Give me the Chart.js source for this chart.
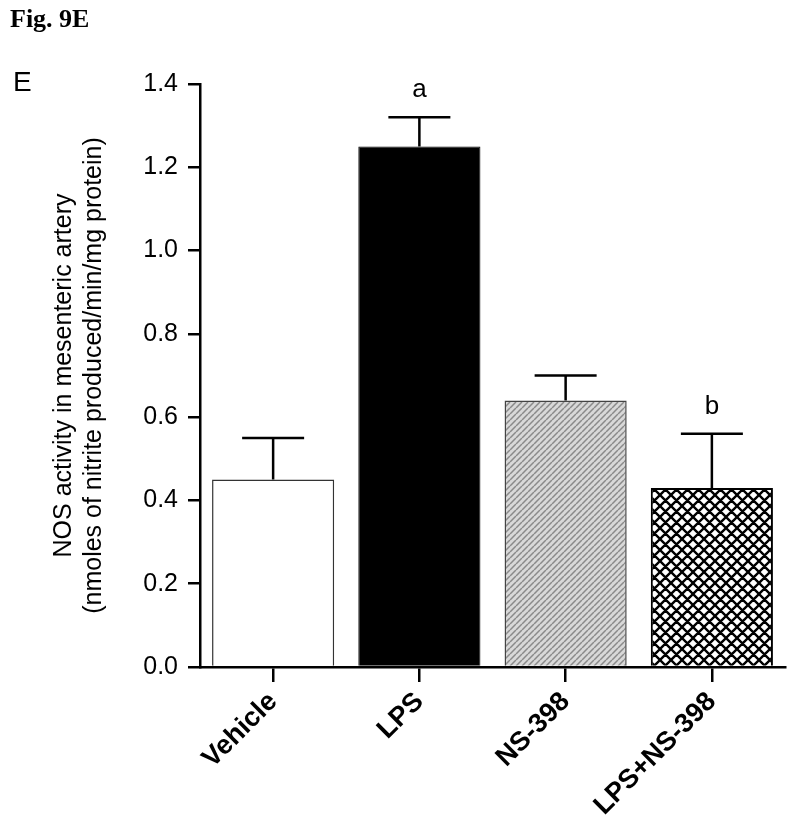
<!DOCTYPE html>
<html lang="en">
<head>
    <meta charset="UTF-8">
    <title>Fig. 9E - NOS activity</title>
    <script src="https://cdn.jsdelivr.net/npm/chart.js@4"></script>
    <style>
        body {
            margin: 0;
            background: #fff;
        }
        .wrap {
            position: relative;
            width: 800px;
            height: 835px;
        }
        .fig-label {
            position: absolute;
            left: 10px;
            top: 4px;
            font-family: 'Liberation Serif', 'Times New Roman', serif;
            font-weight: bold;
            font-size: 26px;
        }
        .panel-label {
            position: absolute;
            left: 13px;
            top: 66px;
            font-family: 'Liberation Sans', Arial, sans-serif;
            font-size: 28px;
        }
        canvas {
            position: absolute;
            left: 0;
            top: 0;
        }
    </style>
</head>
<body>
    <div class="wrap">
        <canvas id="nosChart" width="800" height="835"></canvas>
        <div class="fig-label">Fig. 9E</div>
        <div class="panel-label">E</div>
    </div>

    <script>
        // data
        const groups = ['Vehicle', 'LPS', 'NS-398', 'LPS+NS-398'];
        const means = [0.45, 1.25, 0.64, 0.43];
        const sem = [0.10, 0.07, 0.06, 0.13];
        const letters = ['', 'a', '', 'b'];
        const yTicks = [0.0, 0.2, 0.4, 0.6, 0.8, 1.0, 1.2, 1.4];

        // fill patterns
        function hatchPattern() {
            const p = 6;
            const c = document.createElement('canvas');
            c.width = p; c.height = p;
            const g = c.getContext('2d');
            g.fillStyle = '#d8d8d8';
            g.fillRect(0, 0, p, p);
            g.strokeStyle = '#8a8a8a';
            g.lineWidth = 1.5;
            g.beginPath();
            for (const o of [-p, 0, p]) {
                g.moveTo(o, p);
                g.lineTo(o + p, 0);
            }
            g.stroke();
            return g.createPattern(c, 'repeat');
        }

        function crossPattern() {
            const p = 11;
            const c = document.createElement('canvas');
            c.width = p; c.height = p;
            const g = c.getContext('2d');
            g.fillStyle = '#fff';
            g.fillRect(0, 0, p, p);
            g.strokeStyle = '#000';
            g.lineWidth = 2.4;
            g.beginPath();
            for (const o of [-p, 0, p]) {
                g.moveTo(o, 0);
                g.lineTo(o + p, p);
                g.moveTo(o, p);
                g.lineTo(o + p, 0);
            }
            g.stroke();
            return g.createPattern(c, 'repeat');
        }

        // error bars + significance letters
        const errorBars = {
            id: 'errorBars',
            afterDatasetsDraw(chart) {
                const ctx = chart.ctx;
                const y = chart.scales.y;
                const bars = chart.getDatasetMeta(0).data;
                ctx.save();
                ctx.strokeStyle = '#000';
                ctx.lineWidth = 2.5;
                bars.forEach((bar, i) => {
                    const top = y.getPixelForValue(means[i] + sem[i]);
                    const base = y.getPixelForValue(means[i]);
                    ctx.beginPath();
                    ctx.moveTo(bar.x, base);
                    ctx.lineTo(bar.x, top);
                    ctx.moveTo(bar.x - 31, top);
                    ctx.lineTo(bar.x + 31, top);
                    ctx.stroke();
                    if (letters[i]) {
                        ctx.fillStyle = '#000';
                        ctx.font = '26px "Liberation Sans", Arial, sans-serif';
                        ctx.textAlign = 'center';
                        ctx.textBaseline = 'middle';
                        ctx.fillText(letters[i], bar.x, top - 27);
                    }
                });
                ctx.restore();
            }
        };

        const ctx = document.getElementById('nosChart').getContext('2d');
        new Chart(ctx, {
            type: 'bar',
            data: {
                labels: groups,
                datasets: [{
                    data: means,
                    backgroundColor: ['#ffffff', '#000000', hatchPattern(), crossPattern()],
                    borderColor: ['#333', '#000', '#444', '#000'],
                    borderWidth: [1.5, 1, 1.5, 2],
                    borderSkipped: 'bottom',
                    barPercentage: 0.835,
                    categoryPercentage: 1.0
                }]
            },
            options: {
                responsive: false,
                animation: false,
                layout: {
                    padding: { left: 0, top: 84, right: 15, bottom: 0 }
                },
                plugins: {
                    legend: { display: false },
                    tooltip: { enabled: false }
                },
                scales: {
                    x: {
                        afterFit(scale) { scale.height = 168; },
                        grid: {
                            offset: false,
                            drawOnChartArea: false,
                            color: '#000',
                            lineWidth: 2.5,
                            tickLength: 15
                        },
                        border: { color: '#000', width: 2.5 },
                        ticks: {
                            color: '#000',
                            minRotation: 45,
                            maxRotation: 45,
                            padding: 4,
                            font: { family: '"Liberation Sans", Arial, sans-serif', size: 27, weight: 'bold' }
                        }
                    },
                    y: {
                        min: 0,
                        max: 1.4,
                        afterFit(scale) { scale.width = 200; },
                        afterBuildTicks(scale) {
                            scale.ticks = yTicks.map(v => ({ value: v }));
                        },
                        grid: {
                            drawOnChartArea: false,
                            color: '#000',
                            lineWidth: 2.5,
                            tickLength: 12
                        },
                        border: { color: '#000', width: 2.5 },
                        ticks: {
                            color: '#000',
                            padding: 10,
                            font: { family: '"Liberation Sans", Arial, sans-serif', size: 25 },
                            callback: v => Number(v).toFixed(1)
                        },
                        title: {
                            display: true,
                            text: ['NOS activity in mesenteric artery', '(nmoles of nitrite produced/min/mg protein)'],
                            color: '#000',
                            padding: { top: 49, bottom: 0 },
                            font: { family: '"Liberation Sans", Arial, sans-serif', size: 25, lineHeight: 1.2 }
                        }
                    }
                }
            },
            plugins: [errorBars]
        });
    </script>
</body>
</html>
